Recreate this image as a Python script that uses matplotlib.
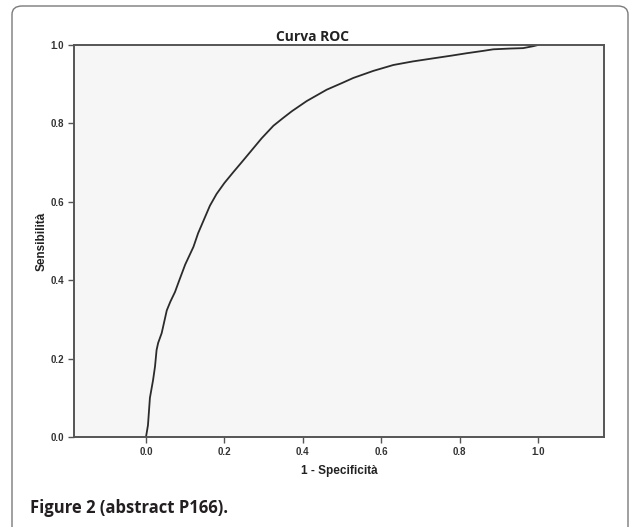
import matplotlib
matplotlib.use('Agg')
import matplotlib.pyplot as plt
from matplotlib.patches import FancyBboxPatch

# ROC curve points
fpr = [0.0, 0.005, 0.01, 0.018, 0.023, 0.027, 0.031, 0.04, 0.053, 0.062,
       0.074, 0.085, 0.1, 0.121, 0.133, 0.148, 0.163, 0.18, 0.2, 0.223,
       0.245, 0.265, 0.295, 0.325, 0.35, 0.372, 0.41, 0.461, 0.5, 0.529,
       0.58, 0.631, 0.68, 0.733, 0.78, 0.818, 0.86, 0.886, 0.93, 0.962,
       0.988, 1.0]
tpr = [0.0, 0.03, 0.10, 0.145, 0.18, 0.222, 0.24, 0.265, 0.323, 0.345,
       0.37, 0.40, 0.44, 0.485, 0.52, 0.555, 0.59, 0.62, 0.648, 0.676,
       0.702, 0.726, 0.762, 0.794, 0.814, 0.831, 0.857, 0.886, 0.903, 0.916,
       0.934, 0.949, 0.958, 0.966, 0.973, 0.979, 0.985, 0.989, 0.991, 0.992,
       0.997, 1.0]
ticks = [0.0, 0.2, 0.4, 0.6, 0.8, 1.0]
tick_labels = ['0.0', '0.2', '0.4', '0.6', '0.8', '1.0']

W, H = 631, 527
fig = plt.figure(figsize=(W / 100, H / 100), dpi=100)
fig.patch.set_facecolor('white')

# rounded frame around the whole figure panel
frame = FancyBboxPatch((12 / W, (H - 540) / H), 616 / W, 534 / H,
                       boxstyle='round,pad=0,rounding_size=0.016',
                       transform=fig.transFigure, fill=False,
                       edgecolor='#7a7a7a', linewidth=1.0, clip_on=False)
fig.patches.append(frame)

left, right, top, bottom = 74, 604, 45, 437
ax = fig.add_axes([left / W, 1 - bottom / H, (right - left) / W, (bottom - top) / H])
ax.set_facecolor('#f6f6f6')

ax.plot(fpr, tpr, color='#2b2b2b', linewidth=1.3)

x0 = -(146 - left) / 392
x1 = (right - 146) / 392
ax.set_xlim(x0, x1)
ax.set_ylim(0, 1)

tick_font = dict(family='Liberation Sans', weight='bold', size=7)
ax.set_xticks(ticks)
ax.set_xticklabels(tick_labels, fontdict=tick_font, color='#333333')
ax.set_yticks(ticks)
ax.set_yticklabels(tick_labels, fontdict=tick_font, color='#333333')
ax.tick_params(direction='out', length=4, width=1.0, color='#555555', pad=3)

for s in ax.spines.values():
    s.set_color('#555555')
    s.set_linewidth(1.4)

label_font = dict(family='Liberation Sans', weight='bold', size=8.5, color='#222222')
ax.set_xlabel('1 - Specificità', fontdict=label_font, labelpad=6)
ax.set_ylabel('Sensibilità', fontdict=label_font, labelpad=2)

fig.text(312 / W, 1 - 37 / H, 'Curva ROC', ha='center', va='center',
         family='Open Sans', weight='bold', size=10, color='#222222')

fig.text(30 / W, 1 - 508 / H, 'Figure 2 (abstract P166).', ha='left', va='center',
         family='Open Sans', weight='bold', size=12, color='#231f20')

fig.savefig('out.png', dpi=100, facecolor='white')
